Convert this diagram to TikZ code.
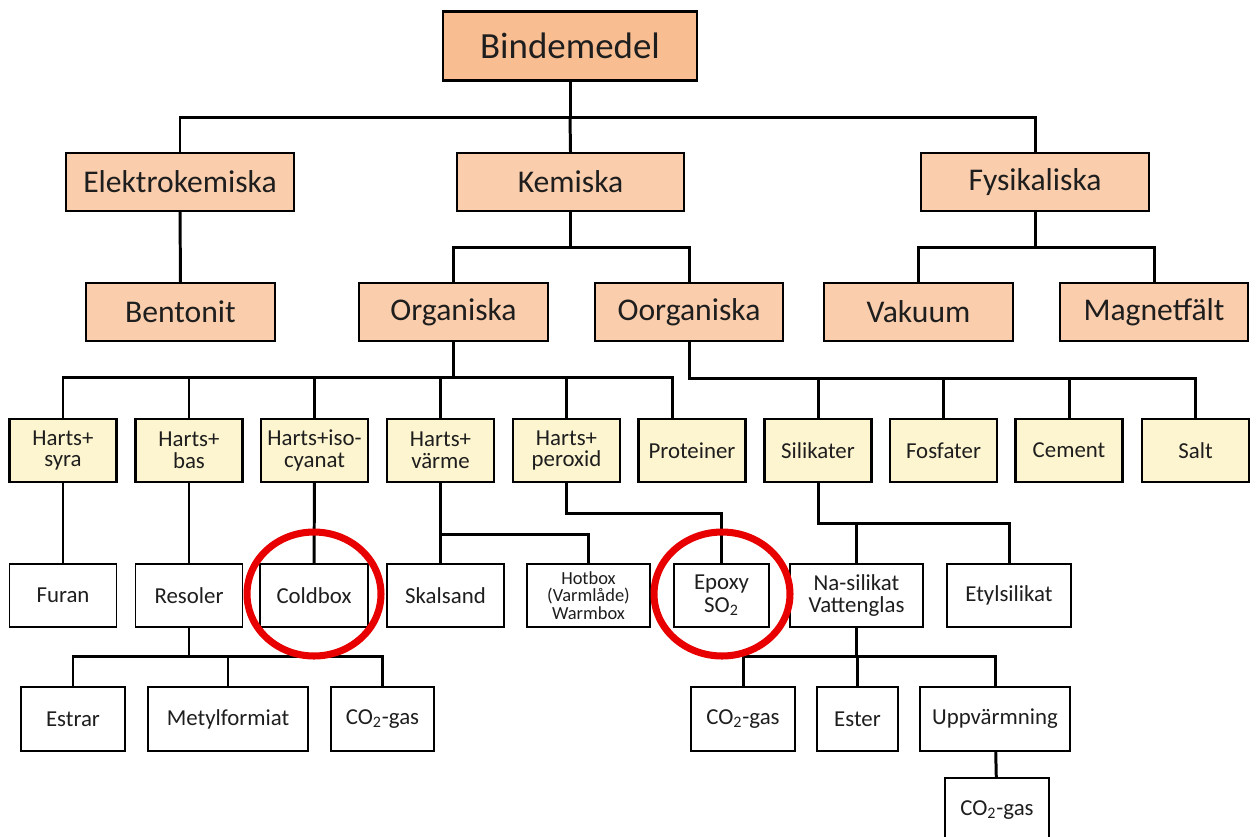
\documentclass[tikz,border=0pt]{standalone}
\usepackage{fontspec}
\setmainfont{Carlito}
\usetikzlibrary{shapes.geometric,calc}
\definecolor{bmpeach}{RGB}{249,189,146}
\definecolor{bmlightpeach}{RGB}{250,205,172}
\definecolor{bmcream}{RGB}{253,245,207}
\definecolor{bmred}{RGB}{232,0,0}
\definecolor{bmtext}{RGB}{30,30,30}
\tikzstyle{conn} = [line width=1.7pt, color=black]
\tikzstyle{topbox} = [rectangle, draw=black, line width=1.3pt, fill=bmpeach, text=bmtext, minimum width=5.08cm, minimum height=1.38cm, inner sep=0pt, font=\fontsize{21}{23}\selectfont]
\tikzstyle{groupbox} = [rectangle, draw=black, line width=1.3pt, fill=bmlightpeach, text=bmtext, minimum height=1.16cm, inner sep=0pt, font=\fontsize{18}{20}\selectfont]
\tikzstyle{typebox} = [rectangle, draw=black, line width=1.3pt, fill=bmcream, text=bmtext, minimum width=2.14cm, minimum height=1.26cm, inner sep=0pt, align=center, font=\fontsize{13}{12.5}\selectfont]
\tikzstyle{leafbox} = [rectangle, draw=black, line width=1.1pt, fill=white, text=bmtext, minimum height=1.26cm, inner sep=0pt, align=center, font=\fontsize{13}{13}\selectfont]
\tikzstyle{ring} = [ellipse, draw=bmred, line width=4pt, inner sep=0pt]

\begin{document}
\begin{tikzpicture}[x=0.02cm,y=-0.02cm]
\path[use as bounding box, fill=white] (0,0) rectangle (1256,836);

% Top level
\node[topbox] (bind) at (570,46) {Bindemedel};

% Main groups
\node[groupbox, minimum width=4.56cm] (elek) at (180,182) {Elektrokemiska};
\node[groupbox, minimum width=4.54cm] (kem) at (570.5,182) {Kemiska};
\node[groupbox, minimum width=4.56cm] (fys) at (1035,182) {Fysikaliska};

% Sub groups
\node[groupbox, minimum width=3.78cm] (bent) at (180.5,312) {Bentonit};
\node[groupbox, minimum width=3.78cm] (org) at (453.5,312) {Organiska};
\node[groupbox, minimum width=3.76cm] (oorg) at (689,312) {Oorganiska};
\node[groupbox, minimum width=3.78cm] (vak) at (918.5,312) {Vakuum};
\node[groupbox, minimum width=3.76cm] (mag) at (1154,312) {Magnetfält};

% Binder types
\node[typebox] (hsyra) at (63,450.5) {Harts+\\syra};
\node[typebox] (hbas) at (189,450.5) {Harts+\\bas};
\node[typebox] (hiso) at (314.5,450.5) {Harts+iso-\\cyanat};
\node[typebox] (hvarme) at (440.5,450.5) {Harts+\\värme};
\node[typebox] (hperox) at (566.5,450.5) {Harts+\\peroxid};
\node[typebox] (prot) at (692,450.5) {Proteiner};
\node[typebox] (sil) at (818,450.5) {Silikater};
\node[typebox] (fos) at (943.5,450.5) {Fosfater};
\node[typebox] (cem) at (1069,450.5) {Cement};
\node[typebox] (salt) at (1195.5,450.5) {Salt};

% Processes
\node[leafbox, minimum width=2.14cm] (furan) at (63,595.5) {Furan};
\node[leafbox, minimum width=2.14cm] (resol) at (189,595.5) {Resoler};
\node[leafbox, minimum width=2.16cm] (cold) at (314,595.5) {Coldbox};
\node[leafbox, minimum width=2.34cm] (skal) at (445.5,595.5) {Skalsand};
\node[leafbox, minimum width=2.46cm, font=\fontsize{10.5}{10}\selectfont] (hot) at (588.5,595.5) {Hotbox\\(Varmlåde)\\Warmbox};
\node[leafbox, minimum width=1.90cm] (epoxy) at (721.5,595.5) {Epoxy\\SO\textsubscript{2}};
\node[leafbox, minimum width=2.66cm] (nasil) at (856.5,595.5) {Na-silikat\\Vattenglas};
\node[leafbox, minimum width=2.48cm] (etyl) at (1009,595.5) {Etylsilikat};

% Hardeners
\node[leafbox, minimum width=2.08cm, minimum height=1.28cm] (estr) at (73,719) {Estrar};
\node[leafbox, minimum width=3.20cm, minimum height=1.28cm] (metyl) at (228,719) {Metylformiat};
\node[leafbox, minimum width=2.06cm, minimum height=1.28cm] (co2a) at (382.5,719) {CO\textsubscript{2}-gas};
\node[leafbox, minimum width=2.08cm, minimum height=1.28cm] (co2b) at (743,719) {CO\textsubscript{2}-gas};
\node[leafbox, minimum width=1.62cm, minimum height=1.28cm] (ester) at (857.5,719) {Ester};
\node[leafbox, minimum width=3.00cm, minimum height=1.28cm] (uppv) at (995,719) {Uppvärmning};
\node[leafbox, minimum width=2.08cm, minimum height=1.28cm] (co2c) at (997,810) {CO\textsubscript{2}-gas};

% Bus points
\coordinate (b0) at (570,117);
\coordinate (b1) at (570.5,247);
\coordinate (b2) at (1035,247);
\coordinate (b3) at (453.5,377);
\coordinate (pj) at (672,377);
\coordinate (b4) at (689,378);
\coordinate (b5) at (440.5,534);
\coordinate (b6) at (566.5,513);
\coordinate (b7) at (818,523);
\coordinate (b8) at (189,656);
\coordinate (b9) at (856.5,656);

% Connectors
\draw[conn] (bind.south) -- (b0);
\draw[conn] (elek.north) |- (b0) -| (fys.north);
\draw[conn] (b0) -- (kem.north);
\draw[conn] (elek) -- (bent);
\draw[conn] (kem.south) -- (b1);
\draw[conn] (org.north) |- (b1) -| (oorg.north);
\draw[conn] (fys.south) -- (b2);
\draw[conn] (vak.north) |- (b2) -| (mag.north);
\draw[conn] (org.south) -- (b3);
\draw[conn] (hsyra.north) |- (b3) -- (pj) -- (pj |- prot.north);
\foreach \n in {hbas,hiso,hvarme,hperox}
  \draw[conn] (\n.north) -- (\n.north |- b3);
\draw[conn] (oorg.south) -- (b4) -| (salt.north);
\foreach \n in {sil,fos,cem}
  \draw[conn] (\n.north) -- (\n.north |- b4);
\draw[conn] (hsyra) -- (furan);
\draw[conn] (hbas) -- (resol);
\draw[conn] (hiso) -- (cold);
\draw[conn] (hvarme.south) -- (b5) -- (b5 |- skal.north);
\draw[conn] (b5) -| (hot.north);
\draw[conn] (hperox.south) -- (b6) -| (epoxy.north);
\draw[conn] (sil.south) -- (b7) -| (etyl.north);
\draw[conn] (nasil.north) |- (b7);
\draw[conn] (resol.south) -- (b8);
\draw[conn] (estr.north) |- (b8) -| (co2a.north);
\draw[conn] (metyl.north) -- (metyl.north |- b8);
\draw[conn] (nasil.south) -- (b9);
\draw[conn] (co2b.north) |- (b9) -| (uppv.north);
\draw[conn] (ester.north) -- (ester.north |- b9);
\draw[conn] (uppv) -- (co2c);

% Highlights
\node[ring, minimum width=2.68cm, minimum height=2.48cm] (ringcold) at (314,594) {};
\node[ring, minimum width=2.72cm, minimum height=2.48cm] (ringepoxy) at (722,594) {};
\end{tikzpicture}
\end{document}
